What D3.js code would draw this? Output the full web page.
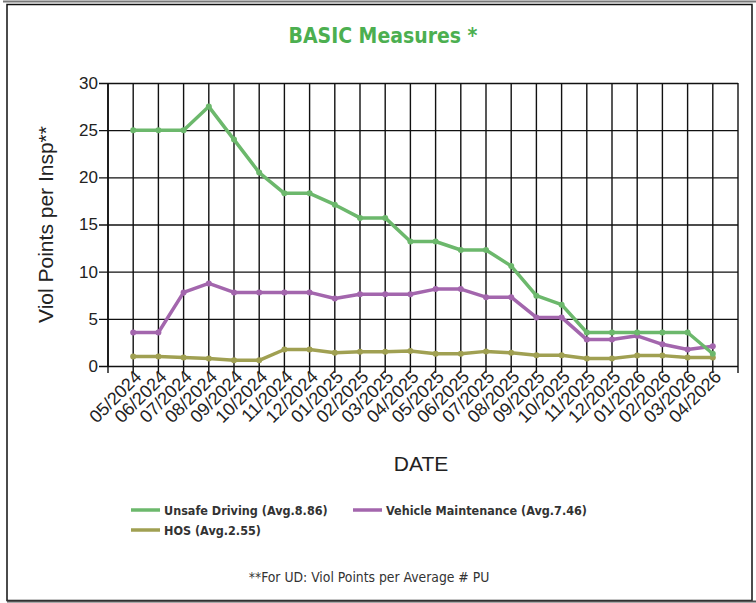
<!DOCTYPE html>
<html>
<head>
<meta charset="utf-8">
<script src="https://cdn.jsdelivr.net/npm/d3@7"></script>
<style>
  body { margin: 0; background: #fff; }
  svg { display: block; }
</style>
</head>
<body>
<svg id="chart"></svg>
<script>
// months on the x axis
var months = ["05/2024","06/2024","07/2024","08/2024","09/2024","10/2024","11/2024","12/2024",
              "01/2025","02/2025","03/2025","04/2025","05/2025","06/2025","07/2025","08/2025",
              "09/2025","10/2025","11/2025","12/2025","01/2026","02/2026","03/2026","04/2026"];

var unsafeDriving = [25, 25, 25, 27.5, 24, 20.5, 18.3, 18.3, 17.1, 15.7, 15.7, 13.2,
                     13.2, 12.3, 12.3, 10.6, 7.45, 6.5, 3.55, 3.55, 3.55, 3.55, 3.55, 1.3];
var vehicleMaint  = [3.55, 3.55, 7.8, 8.75, 7.8, 7.8, 7.8, 7.8, 7.15, 7.6, 7.6, 7.6,
                     8.15, 8.15, 7.3, 7.3, 5.15, 5.15, 2.8, 2.8, 3.2, 2.3, 1.75, 2.1];
var hos           = [1.0, 1.0, 0.9, 0.8, 0.6, 0.6, 1.75, 1.75, 1.4, 1.5, 1.5, 1.6,
                     1.3, 1.3, 1.55, 1.4, 1.15, 1.15, 0.8, 0.8, 1.1, 1.1, 0.9, 0.9];

var seriesNames  = ["Unsafe Driving (Avg.8.86)", "Vehicle Maintenance (Avg.7.46)", "HOS (Avg.2.55)"];
var seriesColors = ["#6cb86c", "#a366ad", "#a0a052"];
var yTicks = [0, 5, 10, 15, 20, 25, 30];

var W = 756, H = 603;
var margin = {top: 83, left: 108, right: 18, bottom: 237};
var width = W - margin.left - margin.right,
    height = H - margin.top - margin.bottom;

var svg = d3.select("#chart").attr("width", W).attr("height", H);

// outer frame
svg.append("line").attr("x1", 3).attr("x2", W).attr("y1", 1.5).attr("y2", 1.5)
  .attr("stroke", "#777").attr("stroke-width", 2);
svg.append("rect").attr("x", 7).attr("y", 4.5).attr("width", 745).attr("height", 596)
  .attr("fill", "none").attr("stroke", "#111").attr("stroke-width", 1.5);
svg.append("line").attr("x1", 7).attr("x2", W).attr("y1", 601.5).attr("y2", 601.5)
  .attr("stroke", "#555").attr("stroke-width", 2);

svg.append("text")
  .attr("x", 383).attr("y", 43)
  .attr("text-anchor", "middle")
  .attr("font-family", "DejaVu Sans Condensed, DejaVu Sans, sans-serif")
  .attr("font-weight", "bold")
  .attr("font-size", "21px")
  .attr("fill", "#4caf50")
  .text("BASIC Measures *");

var g = svg.append("g").attr("transform", "translate(" + margin.left + "," + margin.top + ")");

var x = d3.scalePoint().domain(months).range([0, width]).padding(1);
var y = d3.scaleLinear().domain([0, 30]).range([height, 0]);

// vertical gridlines: every category plus both edges
var gridX = [0].concat(months.map(function(m) { return x(m); })).concat([width]);
g.selectAll(".vgrid").data(gridX).enter().append("line")
  .attr("class", "vgrid")
  .attr("x1", function(d) { return d; }).attr("x2", function(d) { return d; })
  .attr("y1", 0).attr("y2", height + 7)
  .attr("stroke", "#111").attr("stroke-width", 1.4);

// horizontal gridlines + y axis
var yAxis = g.append("g")
  .call(d3.axisLeft(y).tickValues(yTicks).tickSize(-width).tickSizeOuter(0).tickPadding(3));
yAxis.select(".domain").remove();
yAxis.selectAll(".tick line").attr("x1", -9).attr("stroke", "#111").attr("stroke-width", 1.4);
yAxis.selectAll(".tick text")
  .attr("font-family", "Liberation Sans, Arial, sans-serif")
  .attr("font-size", "17px").attr("fill", "#222").attr("x", -10);

g.append("line").attr("x1", 0).attr("x2", 0).attr("y1", 0).attr("y2", height)
  .attr("stroke", "#111").attr("stroke-width", 1.6);

// x labels
var xAxis = g.append("g").attr("transform", "translate(0," + height + ")")
  .call(d3.axisBottom(x).tickSize(0).tickPadding(0));
xAxis.select(".domain").remove();
xAxis.selectAll(".tick text")
  .attr("font-family", "Liberation Sans, Arial, sans-serif")
  .attr("font-size", "18px").attr("fill", "#222")
  .attr("text-anchor", "end")
  .attr("dy", null).attr("y", 0)
  .attr("transform", "translate(9,12) rotate(-45)");

g.append("text")
  .attr("transform", "translate(-55," + (height / 2) + ") rotate(-90)")
  .attr("text-anchor", "middle")
  .attr("font-family", "Liberation Sans, Arial, sans-serif")
  .attr("font-size", "21px").attr("fill", "#222")
  .text("Viol Points per Insp**");

svg.append("text")
  .attr("x", 421).attr("y", 471)
  .attr("text-anchor", "middle")
  .attr("font-family", "Liberation Sans, Arial, sans-serif")
  .attr("font-size", "21px").attr("fill", "#222")
  .text("DATE");

// series
var allSeries = [unsafeDriving, vehicleMaint, hos];
var line = d3.line().x(function(d, i) { return x(months[i]); }).y(function(d) { return y(d); });

// draw HOS first so green/purple stay on top
[2, 1, 0].forEach(function(k) {
  var s = g.append("g");
  s.append("path").datum(allSeries[k])
    .attr("d", line)
    .attr("fill", "none")
    .attr("stroke", seriesColors[k])
    .attr("stroke-width", 3.5)
    .attr("stroke-linejoin", "round");
  s.selectAll("circle").data(allSeries[k]).enter().append("circle")
    .attr("cx", function(d, i) { return x(months[i]); })
    .attr("cy", function(d) { return y(d); })
    .attr("r", 3)
    .attr("fill", seriesColors[k]);
});

// legend
var legendPos = [[131, 510], [353, 510], [131, 530]];
var legend = svg.selectAll(".legend").data(seriesNames).enter().append("g")
  .attr("class", "legend")
  .attr("transform", function(d, i) { return "translate(" + legendPos[i][0] + "," + legendPos[i][1] + ")"; });
legend.append("line")
  .attr("x1", 0).attr("x2", 29).attr("y1", 0).attr("y2", 0)
  .attr("stroke", function(d, i) { return seriesColors[i]; })
  .attr("stroke-width", 3.5);
legend.append("text")
  .attr("x", 33).attr("y", 5)
  .attr("font-family", "DejaVu Sans Condensed, DejaVu Sans, sans-serif")
  .attr("font-weight", "bold")
  .attr("font-size", "12.5px").attr("fill", "#333")
  .text(function(d) { return d; });

svg.append("text")
  .attr("x", 369).attr("y", 582)
  .attr("text-anchor", "middle")
  .attr("font-family", "DejaVu Sans Condensed, DejaVu Sans, sans-serif")
  .attr("font-size", "13.8px").attr("fill", "#333")
  .text("**For UD: Viol Points per Average # PU");
</script>
</body>
</html>
